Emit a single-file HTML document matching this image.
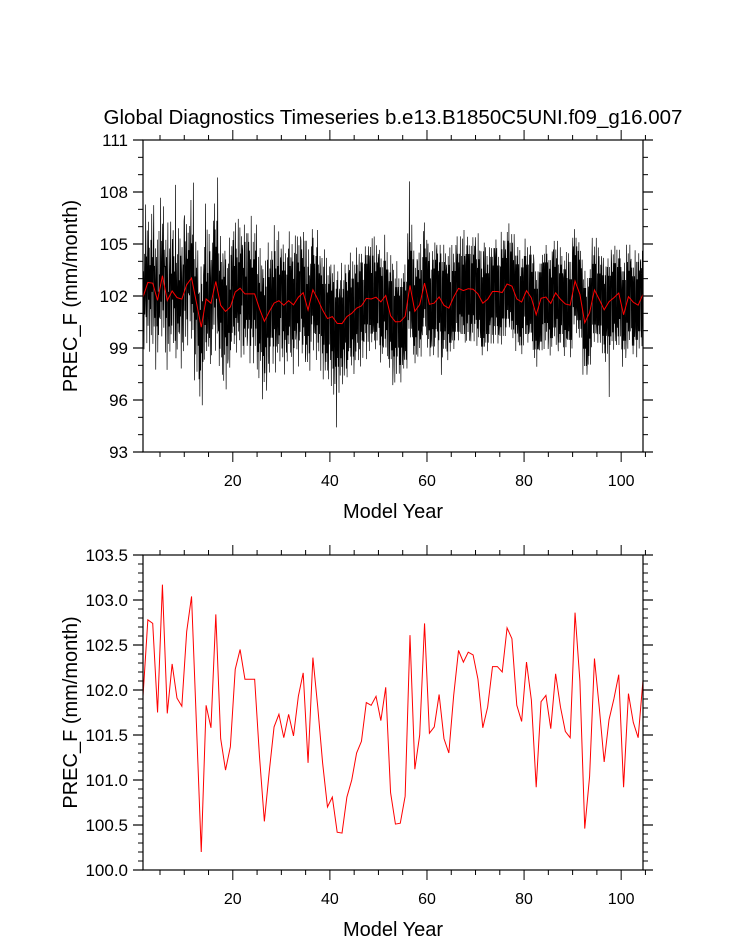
<!DOCTYPE html>
<html><head><meta charset="utf-8"><style>
body{margin:0;background:#fff;}
svg{display:block;font-family:"Liberation Sans",sans-serif;}
</style></head><body>
<svg id="c" width="733" height="945"></svg>
<script>
const years = [];
for (let i = 1; i <= 104; i++) years.push(i + 0.5);
const annualMeans = [101.93,102.78,102.74,101.75,103.17,101.74,102.29,101.91,101.82,102.65,103.04,101.63,100.20,101.83,101.58,102.84,101.46,101.11,101.37,102.23,102.45,102.12,102.12,102.12,101.26,100.54,101.09,101.59,101.73,101.47,101.73,101.49,101.93,102.19,
101.19,102.36,101.81,101.19,100.70,100.81,100.42,100.41,100.81,101.00,101.30,101.43,101.86,101.83,101.93,101.66,102.03,100.86,100.51,100.52,100.82,102.61,101.12,101.50,102.74,101.52,101.59,101.95,101.46,101.30,101.94,102.44,102.31,102.42,102.39,
102.12,101.58,101.81,102.26,102.26,102.20,102.69,102.57,101.83,101.65,102.31,101.89,100.92,101.87,101.94,101.57,102.18,101.81,101.54,101.47,102.86,102.10,100.46,101.04,102.35,101.80,101.20,101.67,101.90,102.17,100.92,101.96,101.64,101.47,102.11];
// monthly anomalies (units of 0.5 mm/month), 12 per year
const monthlyAnom = [
2,-3,6,-5,1,8,-4,3,-6,5,-2,0, 9,-4,3,-7,6,1,-5,7,-2,4,-8,2, -3,5,-6,8,-1,3,-7,4,9,-5,2,-4, 6,-8,2,5,-3,7,-6,1,-4,8,-2,3,
-5,9,-3,4,-7,2,6,-4,8,-6,3,1, 4,-6,7,-2,5,-8,3,9,-5,1,-3,6, -7,3,8,-5,2,-4,6,-1,7,-6,4,-2, 3,-5,13,-7,4,1,-6,5,-3,8,-4,2,
-4,7,-2,5,-8,3,6,-5,1,4,-6,9, 8,-3,5,-6,2,7,-4,3,-7,6,-1,4, -2,6,-5,3,9,-7,4,-3,5,-6,11,-4, 5,-9,3,-6,7,-2,4,-8,2,6,-5,1,
-6,4,-8,2,-5,7,-3,5,-9,3,-4,6, 4,-7,6,-3,11,-5,2,-6,8,-4,3,-2, -5,8,-4,6,-7,3,5,-6,2,7,-3,4, 7,-5,9,-3,6,-8,4,-2,7,-6,12,-4,
-3,6,-7,4,-5,8,-2,5,-6,3,-8,6, 5,-8,4,-5,7,-3,6,-9,3,-4,5,-6, -6,5,-3,8,-7,2,-5,6,-4,7,-3,4, 6,-4,7,-6,3,-5,8,-3,5,-7,4,-2,
-4,8,-5,3,-6,7,-3,4,-8,6,-2,5, 5,-6,3,-7,8,-4,6,-5,2,-3,7,-6, -5,7,-4,6,-3,5,-8,4,-6,9,-4,3, 3,-5,6,-8,4,-3,7,-6,5,-4,8,-2,
-7,4,-5,6,-8,3,-4,7,-6,2,-5,5, 4,-9,6,-4,5,-7,3,-6,7,-3,4,-8, -5,6,-3,8,-6,4,-7,5,-4,6,-3,2, 6,-4,5,-7,3,-5,9,-3,6,-8,4,-5,
-3,7,-6,4,-5,8,-4,3,-7,5,-2,6, 5,-5,4,-6,7,-3,5,-8,4,-4,6,-3, -6,3,-7,5,-4,6,-5,8,-3,4,-6,5, 4,-6,7,-4,5,-8,3,-5,6,-3,8,-4,
-4,5,-6,7,-3,4,-8,6,-5,3,-4,7, 6,-3,5,-7,4,-6,7,-4,3,-5,6,-8, -5,8,-4,3,-6,5,-3,7,-5,4,-7,3, 3,-6,5,-4,7,-3,6,-7,4,-5,3,-4,
-4,5,-7,6,-3,8,-5,4,-6,3,-4,5, 5,-7,4,-3,6,-5,3,-8,5,-4,7,-3, -6,4,-5,7,-4,3,-6,5,-7,4,-3,6, 4,-5,6,-8,3,-4,5,-6,4,-9,6,-3,
-7,3,-5,4,-12,5,-4,6,-5,3,-8,4, 3,-6,5,-4,7,-5,3,-7,4,-3,5,-6, -4,6,-3,5,-6,4,-7,3,-5,6,-4,5, 5,-4,7,-5,3,-6,4,-3,6,-5,4,-7,
-3,5,-6,4,-5,7,-3,5,-4,3,-6,4, 6,-5,4,-7,5,-3,6,-4,5,-6,3,-4, -5,4,-3,6,-4,5,-7,4,-3,5,-5,6, 4,-6,5,-3,6,-4,3,-5,7,-4,5,-3,
-4,7,-5,4,-6,3,-4,6,-5,4,-3,5, 5,-3,6,-5,4,-7,5,-4,3,-6,4,-5, -6,4,-3,7,-5,4,-6,3,-4,5,-7,3, 3,-5,4,-6,5,-3,7,-5,4,-4,6,-8,
-5,6,-4,3,-7,5,-3,4,-6,7,-4,3, 4,-3,5,-6,3,-5,4,-7,5,-3,4,-5, -4,5,-6,4,-5,6,-4,3,-5,4,-6,5, 6,-4,3,-5,12,-3,5,-6,4,-5,7,-4,
-3,6,-5,7,-4,3,-6,5,-3,4,-5,6, 5,-6,4,-3,6,-5,3,-4,7,-6,4,-3, -6,3,-5,6,-4,7,-3,4,-5,3,-6,5, 4,-5,7,-4,5,-3,6,-6,3,-5,4,-4,
-5,6,-3,5,-6,4,-5,7,-4,5,-3,6, 6,-4,5,-7,3,-5,4,-3,6,-4,5,-9, -3,5,-6,4,-5,7,-4,5,-3,6,-5,4, 5,-5,4,-6,6,-3,5,-4,7,-5,3,-4,
-4,6,-5,3,-4,5,-6,4,-5,3,-4,6, 3,-4,6,-5,4,-6,3,-5,4,-3,6,-5, -5,4,-3,6,-5,3,-4,7,-5,4,-6,3, 4,-6,5,-4,6,-5,4,-3,5,-6,4,-5,
-6,5,-4,3,-5,6,-3,4,-6,5,-4,6, 5,-3,4,-6,3,-4,7,-5,4,-3,5,-4, -4,6,-5,4,-6,3,-5,6,-4,7,-5,3, 6,-5,3,-4,5,-6,4,-5,3,-4,6,-3,
-3,4,-6,5,-3,4,-5,3,-6,5,-4,5, 4,-5,6,-3,5,-4,3,-6,4,-5,3,-4, -5,3,-4,7,-6,5,-3,4,-5,6,-3,4, 5,-6,4,-5,3,-4,6,-3,5,-4,7,-5,
-4,5,-3,4,-5,6,-4,5,-6,3,-5,6, 3,-4,5,-6,4,-3,5,-4,6,-5,4,-3, -5,6,-4,3,-5,4,-6,5,-3,4,-5,3, 4,-3,6,-5,4,-5,3,-4,5,-6,3,-5,
-3,5,-4,6,-3,5,-4,3,-5,4,-6,5, 6,-5,3,-4,5,-3,4,-6,3,-4,5,-4, -5,3,-6,4,-5,3,-5,4,-6,5,-3,4, 4,-6,5,-3,4,-5,6,-4,5,-3,4,-6,
-4,5,-3,4,-6,5,-4,3,-5,6,-4,5, 5,-4,6,-5,3,-4,5,-6,4,-3,6,-5, -6,4,-5,3,-4,6,-5,4,-3,5,-4,3, 3,-5,4,-6,5,-3,4,-5,6,-4,3,-4,
-4,6,-3,5,-4,3,-6,5,-4,3,-5,6, 5,-3,4,-5,6,-4,3,-4,5,-6,4,-3, -3,5,-4,6,-5,4,-3,5,-4,3,-5,4, 4,-6,5,-3,4,-5,6,-3,4,-5,3,-6,
-5,4,-6,3,-5,4,-3,5,-6,4,-4,5, 6,-4,3,-5,4,-6,5,-4,3,-5,6,-4, -4,3,-5,6,-3,5,-4,3,-5,4,-3,5, 5,-5,4,-3,6,-4,3,-5,4,-6,5,-3,
-3,4,-6,5,-4,3,-11,4,-5,3,-4,6, 4,-5,3,-4,5,-6,4,-3,6,-5,4,-4, -6,5,-4,3,-5,4,-6,5,-3,4,-5,3, 3,-4,5,-6,4,-3,5,-4,6,-3,4,-5,
-5,6,-3,4,-6,5,-4,3,-5,6,-4,4, 5,-3,4,-5,3,-6,4,-5,3,-4,6,-3, -4,5,-6,3,-4,5,-3,6,-5,4,-3,5, 4,-5,3,-6,5,-4,8,-3,4,-5,7,-4];
const xTicks = [20,40,60,80,100];
const topYTicks = [93,96,99,102,105,108,111];
const botYTicks = ["100.0","100.5","101.0","101.5","102.0","102.5","103.0","103.5"];

const NS = "http://www.w3.org/2000/svg";
const svg = document.getElementById('c');
function el(tag, attrs, parent, text){
  const e = document.createElementNS(NS, tag);
  for (const k in attrs) e.setAttribute(k, attrs[k]);
  if (text !== undefined) e.textContent = text;
  (parent || svg).appendChild(e);
  return e;
}
const X0 = 143, X1 = 643, XMIN = 1.5, XMAX = 104.5;
const xs = v => X0 + (v - XMIN) / (XMAX - XMIN) * (X1 - X0);

function axes(g, top, bot, ymin, ymax, majorTicks, minorStep, labels, ys){
  for (let v = 5; v <= 105; v += 5) {
    const x = xs(v); if (x < X0 - 0.5 || x > X1 + 2.5) continue;
    const L = v % 20 === 0 ? 10 : 5;
    el('line',{x1:x,y1:bot,x2:x,y2:bot+L,stroke:'#000','stroke-width':1},g);
    el('line',{x1:x,y1:top,x2:x,y2:top-L,stroke:'#000','stroke-width':1},g);
  }
  for (let v = ymin; v <= ymax + 1e-9; v += minorStep) {
    const y = ys(v);
    el('line',{x1:X0,y1:y,x2:X0-5,y2:y,stroke:'#000','stroke-width':1},g);
    el('line',{x1:X1,y1:y,x2:X1+5,y2:y,stroke:'#000','stroke-width':1},g);
  }
  majorTicks.forEach((v, i) => {
    const y = ys(v);
    el('line',{x1:X0,y1:y,x2:X0-10,y2:y,stroke:'#000','stroke-width':1.2},g);
    el('line',{x1:X1,y1:y,x2:X1+10,y2:y,stroke:'#000','stroke-width':1.2},g);
    const t = el('text',{x:128,y:y+6,'text-anchor':'end','font-size':17},g,labels[i]);
    
    
  });
  xTicks.forEach(v => {
    const t = el('text',{x:xs(v),y:bot+34,'text-anchor':'middle','font-size':16},g,String(v));
    
    
  });
  const fr = el('rect',{x:X0,y:top,width:X1-X0,height:bot-top,fill:'none',stroke:'#000','stroke-width':1.2},g);
  
  
  const xt = el('text',{x:(X0+X1)/2,y:bot+66,'text-anchor':'middle','font-size':20},g,'Model Year');
  
  
  const cy = (top+bot)/2;
  const yt = el('text',{x:77,y:cy,'text-anchor':'middle','font-size':20,transform:`rotate(-90 77 ${cy})`},g,'PREC_F (mm/month)');
  
  
}

const title = el('text',{x:393,y:124,'text-anchor':'middle','font-size':20.5},svg,'Global Diagnostics Timeseries b.e13.B1850C5UNI.f09_g16.007');



// TOP chart
const T_TOP = 140, T_BOT = 452;
const ysTop = v => T_BOT - (v - 93) / 18 * (T_BOT - T_TOP);
const gTop = el('g',{});


el('clipPath',{id:'clipTop'},gTop);
el('rect',{x:X0,y:T_TOP,width:X1-X0,height:T_BOT-T_TOP},document.getElementById('clipTop'));
let d = '';
for (let n = 0; n < annualMeans.length; n++) {
  for (let m = 0; m < 12; m++) {
    const t = n + 1 + (m + 0.5) / 12;
    const v = annualMeans[n] + monthlyAnom[n*12+m] * 0.5;
    d += (d ? 'L' : 'M') + xs(t).toFixed(2) + ' ' + ysTop(v).toFixed(2);
  }
}
const blk = el('path',{d:d,fill:'none',stroke:'#000','stroke-width':0.7,'clip-path':'url(#clipTop)'},gTop);


let dr = '';
years.forEach((yv,i) => { dr += (i ? 'L' : 'M') + xs(yv).toFixed(2) + ' ' + ysTop(annualMeans[i]).toFixed(2); });
const red1 = el('path',{d:dr,fill:'none',stroke:'#ff0000','stroke-width':1},gTop);


axes(gTop, T_TOP, T_BOT, 93, 111, topYTicks, 1, topYTicks.map(String), ysTop);

// BOTTOM chart
const B_TOP = 555, B_BOT = 870;
const ysBot = v => B_BOT - (v - 100) / 3.5 * (B_BOT - B_TOP);
const gBot = el('g',{});


let db = '';
years.forEach((yv,i) => { db += (i ? 'L' : 'M') + xs(yv).toFixed(2) + ' ' + ysBot(annualMeans[i]).toFixed(2); });
const red2 = el('path',{d:db,fill:'none',stroke:'#ff0000','stroke-width':1},gBot);


axes(gBot, B_TOP, B_BOT, 100, 103.5, botYTicks.map(Number), 0.1, botYTicks, ysBot);
</script>
</body></html>
